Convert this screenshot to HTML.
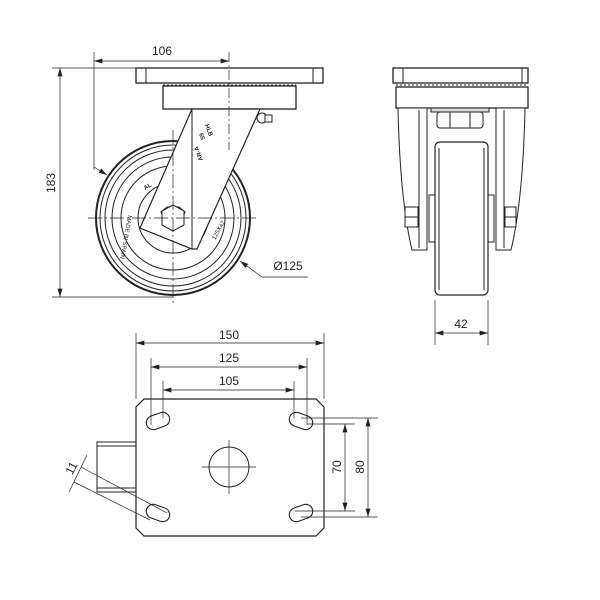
<!DOCTYPE html>
<html><head><meta charset="utf-8"><style>
html,body{margin:0;padding:0;background:#fff}
svg{display:block}
text{font-family:"Liberation Sans","DejaVu Sans",sans-serif;fill:#222}
</style></head><body>
<svg width="600" height="600" viewBox="0 0 600 600" xmlns="http://www.w3.org/2000/svg">
<defs>
<marker id="a" viewBox="0 0 10 6" refX="10" refY="3" markerWidth="9" markerHeight="5" orient="auto-start-reverse" markerUnits="userSpaceOnUse"><path d="M0,0 L10,3 L0,6 z" fill="#222"/></marker>
</defs>
<g fill="none" stroke="#222" stroke-width="1">
<!-- TOP-LEFT VIEW -->
<rect x="136" y="68" width="187" height="15" fill="#fff" stroke-width="1.3"/>
<line x1="146" y1="68" x2="146" y2="83"/><line x1="313" y1="68" x2="313" y2="83"/>
<line x1="163" y1="85" x2="296" y2="85" stroke-dasharray="2,2"/>
<rect x="163" y="86" width="133" height="23" fill="#fff" stroke-width="1.3"/>
<!-- wheel -->
<circle cx="173" cy="218" r="77" stroke-width="2"/>
<circle cx="173" cy="218" r="73"/>
<circle cx="173" cy="218" r="68"/>
<circle cx="173" cy="218" r="61"/>
<circle cx="173" cy="218" r="52"/>
<circle cx="173" cy="218" r="35"/>
<!-- fork -->
<polygon points="192,109 260,109 197,249 192,249 140,228" fill="#fff" stroke-width="1.2"/>
<line x1="192" y1="109" x2="192" y2="249"/>
<polygon points="161,212 167,207 179,207 185,212 179,227 167,227" transform="rotate(0)" fill="#fff"/>
<polygon points="173,205 184,211 184,225 173,231 162,225 162,211" fill="#fff"/>
<!-- grease nipple -->
<circle cx="262" cy="118" r="5" fill="#fff"/>
<rect x="265" y="115" width="7" height="7" fill="#fff"/>
<!-- centerlines -->
<line x1="88" y1="218" x2="258" y2="218" stroke-width="0.7" stroke-dasharray="14,3,2,3"/>
<line x1="173" y1="130" x2="173" y2="305" stroke-width="0.7" stroke-dasharray="14,3,2,3"/>
<line x1="229" y1="52" x2="229" y2="150" stroke-width="0.7" stroke-dasharray="10,3,2,3"/>
<!-- dim 106 -->
<line x1="94" y1="52" x2="94" y2="170" stroke-width="0.7"/>
<line x1="94" y1="61" x2="229" y2="61" stroke-width="0.7" marker-start="url(#a)" marker-end="url(#a)"/>
<line x1="94" y1="167" x2="107" y2="175" stroke-width="0.7" marker-end="url(#a)"/>
<!-- dim 183 -->
<line x1="52" y1="68" x2="136" y2="68" stroke-width="0.7"/>
<line x1="52" y1="297" x2="173" y2="297" stroke-width="0.7"/>
<line x1="60" y1="68" x2="60" y2="297" stroke-width="0.7" marker-start="url(#a)" marker-end="url(#a)"/>
<!-- Ø125 leader -->
<line x1="262" y1="277" x2="240" y2="261" stroke-width="0.7" marker-end="url(#a)"/>
<line x1="262" y1="277" x2="308" y2="277" stroke-width="0.7"/>

<!-- SIDE VIEW -->
<rect x="393" y="68" width="135" height="15" fill="#fff" stroke-width="1.3"/>
<line x1="403" y1="68" x2="403" y2="83"/><line x1="522" y1="68" x2="522" y2="83"/>
<line x1="396" y1="85" x2="528" y2="85" stroke-dasharray="2,2"/>
<rect x="396" y="87" width="132" height="21" fill="#fff" stroke-width="1.3"/>
<path d="M398,108 L427,108 L427,250 L412,250 Q400,200 398,108 Z" fill="#fff"/>
<line x1="419" y1="110" x2="419" y2="248"/>
<path d="M496,108 L525,108 Q523,200 511,250 L496,250 Z" fill="#fff"/>
<line x1="504" y1="110" x2="504" y2="248"/>
<rect x="431" y="108" width="58" height="4" fill="#ddd"/>
<rect x="437" y="112" width="46" height="16" rx="3" fill="#fff"/>
<line x1="450" y1="112" x2="450" y2="128"/><line x1="470" y1="112" x2="470" y2="128"/>
<rect x="429" y="195" width="6" height="47" fill="#fff"/>
<rect x="488" y="195" width="6" height="47" fill="#fff"/>
<rect x="435" y="142" width="53" height="153" rx="5" fill="#fff" stroke-width="1.2"/>
<line x1="439" y1="148" x2="439" y2="290"/><line x1="484" y1="148" x2="484" y2="290"/>
<rect x="405" y="207" width="13" height="20" fill="#fff"/>
<line x1="405" y1="217" x2="418" y2="217"/>
<rect x="505" y="207" width="11" height="20" fill="#fff"/>
<line x1="505" y1="217" x2="516" y2="217"/>
<line x1="435" y1="300" x2="435" y2="345" stroke-width="0.7"/>
<line x1="488" y1="300" x2="488" y2="345" stroke-width="0.7"/>
<line x1="435" y1="333" x2="488" y2="333" stroke-width="0.7" marker-start="url(#a)" marker-end="url(#a)"/>

<!-- BOTTOM VIEW -->
<rect x="97" y="442" width="39" height="50" fill="#fff"/>
<line x1="97" y1="446" x2="136" y2="446"/><line x1="97" y1="488" x2="136" y2="488"/>
<polygon points="144,399 316,399 324,407 324,528 316,536 144,536 136,528 136,407" fill="#fff" stroke-width="1.2"/>
<circle cx="229" cy="467" r="20"/>
<line x1="202" y1="467" x2="256" y2="467" stroke-width="0.7"/>
<line x1="229" y1="440" x2="229" y2="494" stroke-width="0.7"/>
<g stroke-width="1.1">
<rect x="146" y="414" width="24" height="14" rx="7" transform="rotate(-20 158 421)"/>
<rect x="289" y="414" width="24" height="14" rx="7" transform="rotate(20 301 421)"/>
<rect x="146" y="506" width="24" height="14" rx="7" transform="rotate(20 158 513)"/>
<rect x="289" y="506" width="24" height="14" rx="7" transform="rotate(-20 301 513)"/>
</g>
<!-- dims 150/125/105 -->
<line x1="136" y1="333" x2="136" y2="399" stroke-width="0.7"/>
<line x1="324" y1="333" x2="324" y2="399" stroke-width="0.7"/>
<line x1="136" y1="343" x2="324" y2="343" stroke-width="0.7" marker-start="url(#a)" marker-end="url(#a)"/>
<line x1="151" y1="358" x2="151" y2="425" stroke-width="0.7"/>
<line x1="307" y1="358" x2="307" y2="425" stroke-width="0.7"/>
<line x1="151" y1="367" x2="307" y2="367" stroke-width="0.7" marker-start="url(#a)" marker-end="url(#a)"/>
<line x1="163" y1="381" x2="163" y2="418" stroke-width="0.7"/>
<line x1="294" y1="381" x2="294" y2="418" stroke-width="0.7"/>
<line x1="163" y1="390" x2="294" y2="390" stroke-width="0.7" marker-start="url(#a)" marker-end="url(#a)"/>
<!-- dims 70/80 -->
<line x1="301" y1="418" x2="378" y2="418" stroke-width="0.7"/>
<line x1="307" y1="424" x2="355" y2="424" stroke-width="0.7"/>
<line x1="295" y1="511" x2="355" y2="511" stroke-width="0.7"/>
<line x1="301" y1="517" x2="378" y2="517" stroke-width="0.7"/>
<line x1="345" y1="424" x2="345" y2="511" stroke-width="0.7" marker-start="url(#a)" marker-end="url(#a)"/>
<line x1="368" y1="418" x2="368" y2="517" stroke-width="0.7" marker-start="url(#a)" marker-end="url(#a)"/>
<!-- dim 11 -->
<line x1="81" y1="467" x2="167" y2="513" stroke-width="0.7"/>
<line x1="74" y1="482" x2="150" y2="520" stroke-width="0.7"/>
<line x1="87" y1="455" x2="69" y2="492" stroke-width="0.7"/>
</g>
<g font-size="12">
<text x="162" y="55" text-anchor="middle">106</text>
<text transform="translate(55,183) rotate(-90)" text-anchor="middle">183</text>
<text x="288" y="270" text-anchor="middle">Ø125</text>
<text x="461" y="328" text-anchor="middle">42</text>
<text x="229" y="339" text-anchor="middle">150</text>
<text x="229" y="362" text-anchor="middle">125</text>
<text x="229" y="385" text-anchor="middle">105</text>
<text transform="translate(341,467) rotate(-90)" text-anchor="middle">70</text>
<text transform="translate(364,467) rotate(-90)" text-anchor="middle">80</text>
<text transform="translate(75,470) rotate(-62)" text-anchor="middle">11</text>
</g>
<g font-size="6" font-weight="bold">
<text transform="translate(205,125) rotate(70)">HLB</text>
<text transform="translate(199,134) rotate(70)">65</text>
<text transform="translate(203,160) rotate(-110)">AR-A</text>
<text transform="translate(145,190) rotate(-30)">AL</text>
<text transform="translate(128,215) rotate(100)" font-weight="normal">MADE IN SPAIN</text>
<text transform="translate(215,240) rotate(-60)" font-weight="normal">125X42</text>
</g>
</svg>
</body></html>
